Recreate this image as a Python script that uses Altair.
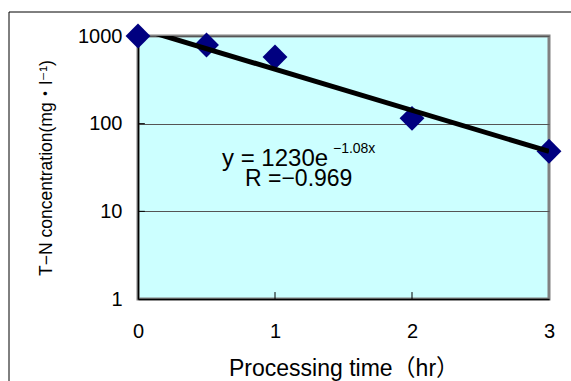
import altair as alt
import pandas as pd

# ---- data ----
time_hr = [0, 0.5, 1, 2, 3]
tn_conc = [1000, 790, 575, 115, 48.5]
trend_x = [0, 3]
trend_y = [1230, 48.2]
y_ticks = [1, 10, 100, 1000]
x_ticks = [0, 1, 2, 3]
x_inner_ticks = [1, 2]
y_inner_ticks = [10, 100]
eq_main = ["y = 1230e"]
eq_sup = ["−1.08x"]
eq_r = ["R =−0.969"]
eq_main_pos = [0.613, 32.9]
eq_sup_pos = [1.423, 46.7]
eq_r_pos = [0.781, 19.6]

W, H = 411, 263
FONT = "Liberation Sans, Noto Sans CJK JP, DejaVu Sans"

pts = pd.DataFrame({"t": time_hr, "c": tn_conc})
trend = pd.DataFrame({"t": trend_x, "c": trend_y})
xt = pd.DataFrame({"t": x_inner_ticks, "c0": [1] * len(x_inner_ticks), "c1": [1.2] * len(x_inner_ticks)})
yt = pd.DataFrame({"c": y_inner_ticks, "t0": [0] * len(y_inner_ticks), "t1": [0.05] * len(y_inner_ticks)})
txt_main = pd.DataFrame({"t": [eq_main_pos[0]], "c": [eq_main_pos[1]], "s": eq_main})
txt_sup = pd.DataFrame({"t": [eq_sup_pos[0]], "c": [eq_sup_pos[1]], "s": eq_sup})
txt_r = pd.DataFrame({"t": [eq_r_pos[0]], "c": [eq_r_pos[1]], "s": eq_r})

xscale = alt.Scale(domain=[0, 3], nice=False, zero=False)
yscale = alt.Scale(type="log", domain=[1, 1000], nice=False)

xaxis = alt.Axis(
    values=x_ticks, title="Processing time（hr）", grid=False, ticks=False, tickSize=0,
    labelPadding=38, labelBaseline="alphabetic", labelFontSize=20, labelFont=FONT,
    labelColor="black", domainColor="black", domainWidth=1.5,
    titleFont=FONT, titleFontSize=23, titleFontWeight="normal", titleColor="black",
    titleBaseline="alphabetic", titleY=76, labelFlush=False, labelOverlap=False,
)
yaxis = alt.Axis(
    values=y_ticks, format="d", title="T−N concentration(mg・l⁻¹)", grid=True,
    gridColor="#555555", gridWidth=1, ticks=False, tickSize=0, labelPadding=16,
    labelFontSize=20, labelFont=FONT, labelColor="black", domainColor="black", domainWidth=1.5,
    titleFont=FONT, titleFontSize=17.5, titleFontWeight="normal", titleColor="black",
    titleX=-92, titleBaseline="middle", labelFlush=False, labelOverlap=False,
)

frame = alt.Chart(pd.DataFrame({"a": [0]})).mark_rect(
    fill=None, stroke="black", strokeWidth=1, clip=False
).encode(x=alt.value(-129), x2=alt.value(700), y=alt.value(-24), y2=alt.value(500))

points = alt.Chart(pts).mark_point(
    shape="diamond", filled=True, color="#000080", size=620, opacity=1, clip=False
).encode(
    x=alt.X("t:Q", scale=xscale, axis=xaxis),
    y=alt.Y("c:Q", scale=yscale, axis=yaxis),
)

line = alt.Chart(trend).mark_line(color="black", strokeWidth=5, clip=True).encode(
    x=alt.X("t:Q", scale=xscale, axis=xaxis),
    y=alt.Y("c:Q", scale=yscale, axis=yaxis),
)

xticks = alt.Chart(xt).mark_rule(color="black", strokeWidth=1).encode(
    x=alt.X("t:Q", scale=xscale, axis=xaxis),
    y=alt.Y("c0:Q", scale=yscale, axis=yaxis),
    y2="c1:Q",
)
yticks = alt.Chart(yt).mark_rule(color="black", strokeWidth=1).encode(
    y=alt.Y("c:Q", scale=yscale, axis=yaxis),
    x=alt.X("t0:Q", scale=xscale, axis=xaxis),
    x2="t1:Q",
)

def text_layer(df, size):
    return alt.Chart(df).mark_text(
        align="left", baseline="alphabetic", font=FONT, fontSize=size, color="black"
    ).encode(
        x=alt.X("t:Q", scale=xscale, axis=xaxis),
        y=alt.Y("c:Q", scale=yscale, axis=yaxis),
        text="s:N",
    )

chart = alt.layer(
    frame, points, xticks, yticks, line,
    text_layer(txt_main, 24), text_layer(txt_sup, 14), text_layer(txt_r, 23),
).properties(
    width=W, height=H,
    autosize=alt.AutoSizeParams(type="none"),
    padding={"left": 138, "top": 36, "right": 22, "bottom": 82},
    background="white",
).configure_view(
    fill="#CCFFFF", stroke="#808080", strokeWidth=3
)

chart.save("out.html", embed_options={"renderer": "svg", "actions": False})
